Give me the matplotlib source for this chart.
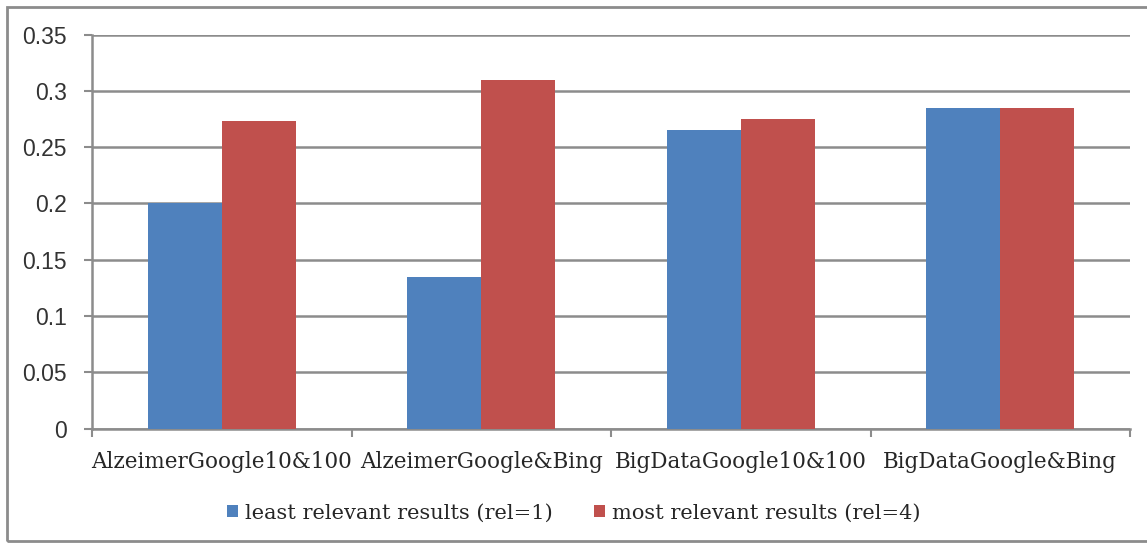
import numpy as np
import matplotlib.pyplot as plt
from matplotlib.patches import Rectangle

categories = ["AlzeimerGoogle10&100", "AlzeimerGoogle&Bing",
              "BigDataGoogle10&100", "BigDataGoogle&Bing"]
least_relevant = [0.200, 0.135, 0.265, 0.285]
most_relevant = [0.273, 0.310, 0.275, 0.285]
series_names = ["least relevant results (rel=1)", "most relevant results (rel=4)"]
yticks = [0, 0.05, 0.1, 0.15, 0.2, 0.25, 0.3, 0.35]
ytick_labels = ["0", "0.05", "0.1", "0.15", "0.2", "0.25", "0.3", "0.35"]

blue = "#4F81BD"
red = "#C0504D"
grid = "#8C8C8C"

fig = plt.figure(figsize=(11.47, 5.45), dpi=100)
ax = fig.add_axes([92 / 1147, 1 - 428.5 / 545, (1130 - 92) / 1147, (428.5 - 34.5) / 545])

x = np.arange(len(categories))
w = 0.285
ax.bar(x - w / 2, least_relevant, w, color=blue, label=series_names[0], zorder=3)
ax.bar(x + w / 2, most_relevant, w, color=red, label=series_names[1], zorder=3)

ax.set_xlim(-0.5, len(categories) - 0.5)
ax.set_ylim(0, 0.35)
ax.set_yticks(yticks)
ax.set_yticklabels(ytick_labels, family="Liberation Sans", fontsize=16.5, color="#333333")

# category labels sit between the boundary ticks
ax.set_xticks(x)
ax.set_xticklabels(categories, family="DejaVu Serif", fontsize=15.5, color="#262626")
ax.tick_params(axis="x", length=0, pad=16)
ax.set_xticks(np.arange(len(categories) + 1) - 0.5, minor=True)
ax.tick_params(axis="x", which="minor", length=6, width=1.5, color=grid)
ax.tick_params(axis="y", length=6, width=1.5, color=grid, pad=12)

ax.grid(axis="y", color=grid, linewidth=1.8, zorder=0)
for s in ["top", "right"]:
    ax.spines[s].set_visible(False)
for s in ["left", "bottom"]:
    ax.spines[s].set_color(grid)
    ax.spines[s].set_linewidth(1.8)

leg = fig.legend(loc="center", bbox_to_anchor=(0.5, 1 - 513 / 545), ncol=2,
                 frameon=False, fontsize=15,
                 handlelength=0.55, handleheight=0.55, handletextpad=0.3,
                 columnspacing=2.0)
for t in leg.get_texts():
    t.set_family("DejaVu Serif")
    t.set_color("#262626")

# outer chart frame
fig.patches.append(Rectangle((7 / 1147, 1 - 541 / 545), 1.1, (541 - 7) / 545,
                             transform=fig.transFigure, fill=False,
                             edgecolor="#8C8C8C", linewidth=2))

fig.savefig("out.png", dpi=100)
